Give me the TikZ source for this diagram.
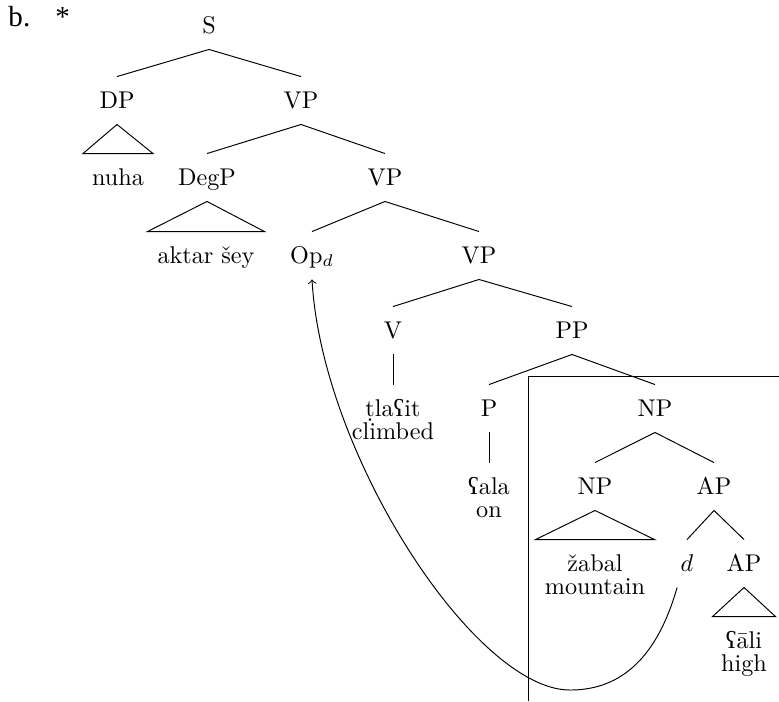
\documentclass[tikz,border=0pt]{standalone}
\usepackage{fontspec}
\usetikzlibrary{calc}
\newfontfamily\timesfont{Liberation Serif}
\newfontfamily\ipaA{Liberation Serif}
\newfontfamily\ipaB{DejaVu Serif}[Scale=0.85]
\newcommand\ain{\iffontchar\font"0295 ʕ\else{\ipaA\iffontchar\font"0295 ʕ\else\ipaB ʕ\fi}\fi}
\newcommand\tdot{\iffontchar\font"1E6D ṭ\else\d{t}\fi}
\begin{document}
\begin{tikzpicture}[x=0.4132pt,y=-0.4132pt,
  lbl/.style={anchor=base,inner xsep=0pt,inner ysep=5.9pt,text height=6.9pt,text depth=0.7pt},
  ex/.style={anchor=base west,inner sep=0pt,font=\timesfont\fontsize{12}{14}\selectfont},
  br/.style={line width=0.4pt}]
\useasboundingbox (0,0) rectangle (779,701);
\node[ex] (lab) at (8,26) {b.};
\node[ex] (star) at (55,26) {*};
% nodes
\node[lbl] (S) at (209,33) {S};
\node[lbl] (DP) at (117,108) {DP};
\node[lbl] (VPa) at (301,108) {VP};
\node[lbl] (nuha) at (118,185) {nuha};
\node[lbl] (DegP) at (207,185) {DegP};
\node[lbl] (VPb) at (385,185) {VP};
\node[lbl] (aktar) at (206,263) {aktar šey};
\node[lbl] (Op) at (312,263) {Op$_d$};
\node[lbl] (VPc) at (479,263) {VP};
\node[lbl] (V) at (393,338) {V};
\node[lbl] (PP) at (572,338) {PP};
\node[lbl] (tlait) at (393,416) {\tdot la\ain it};
\node[lbl] (climbed) at (393,439) {climbed};
\node[lbl] (P) at (489,416) {P};
\node[lbl] (NPa) at (655,416) {NP};
\node[lbl] (ala) at (489,494) {\ain ala};
\node[lbl] (on) at (489,517) {on};
\node[lbl] (NPb) at (595,494) {NP};
\node[lbl] (APa) at (714,494) {AP};
\node[lbl] (zabal) at (595,571) {žabal};
\node[lbl] (mountain) at (595,594) {mountain};
\node[lbl] (d) at (687,571) {$d$};
\node[lbl] (APb) at (744,571) {AP};
\node[lbl] (ali) at (744,648) {\ain āli};
\node[lbl] (high) at (744,671) {high};
% branches
\draw[br] (DP.north) -- (S.south) -- (VPa.north);
\draw[br] (DegP.north) -- (VPa.south) -- (VPb.north);
\draw[br] (Op.north) -- (VPb.south) -- (VPc.north);
\draw[br] (V.north) -- (VPc.south) -- (PP.north);
\draw[br] (P.north) -- (PP.south) -- (NPa.north);
\draw[br] (NPb.north) -- (NPa.south) -- (APa.north);
\draw[br] (d.north) -- (APa.south) -- (APb.north);
\draw[br] (V.south) -- (tlait.north);
\draw[br] (P.south) -- (ala.north);
% triangles
\draw[br] (DP.south) -- ($(nuha.north)+(-35,0)$) -- ($(nuha.north)+(35,0)$) -- cycle;
\draw[br] (DegP.south) -- ($(aktar.north)+(-58.5,0)$) -- ($(aktar.north)+(58.5,0)$) -- cycle;
\draw[br] (NPb.south) -- ($(zabal.north)+(-59.5,0)$) -- ($(zabal.north)+(59.5,0)$) -- cycle;
\draw[br] (APb.south) -- ($(ali.north)+(-31.5,0)$) -- ($(ali.north)+(31.5,0)$) -- cycle;
% box
\coordinate (boxTL) at (528,376.5);
\coordinate (boxTR) at (779,376.5);
\coordinate (boxBL) at (528,701);
\draw[br] (boxTR) -- (boxTL) -- (boxBL);
% movement arrow
\coordinate (bottom) at (570,690);
\draw[br,->] ([xshift=-4.1pt]d.south) .. controls (655,665) and (615,690) .. (bottom)
  .. controls (475,690) and (322,455) .. (Op.south);
\end{tikzpicture}
\end{document}
